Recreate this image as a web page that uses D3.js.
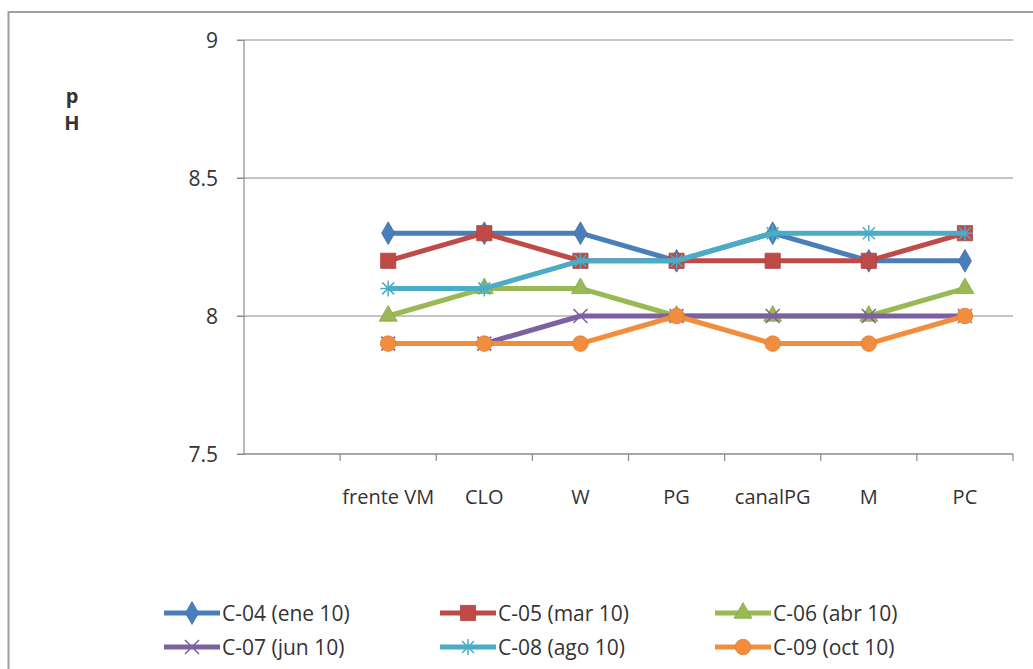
<!DOCTYPE html>
<html>
<head>
<meta charset="utf-8">
<script src="https://cdn.jsdelivr.net/npm/d3@7"></script>
<style>
  body { margin: 0; background: #fff; }
  svg { display: block; }
  text { font-family: "Open Sans", "DejaVu Sans", sans-serif; fill: #333; }
</style>
</head>
<body>
<div id="chart"></div>
<script>
// sites along x axis (first band is left empty, as in the original)
var sites = ["", "frente VM", "CLO", "W", "PG", "canalPG", "M", "PC"];
var yTicks = [7.5, 8, 8.5, 9];

var c04 = [8.3, 8.3, 8.3, 8.2, 8.3, 8.2, 8.2];
var c05 = [8.2, 8.3, 8.2, 8.2, 8.2, 8.2, 8.3];
var c06 = [8.0, 8.1, 8.1, 8.0, 8.0, 8.0, 8.1];
var c07 = [7.9, 7.9, 8.0, 8.0, 8.0, 8.0, 8.0];
var c08 = [8.1, 8.1, 8.2, 8.2, 8.3, 8.3, 8.3];
var c09 = [7.9, 7.9, 7.9, 8.0, 7.9, 7.9, 8.0];

var seriesNames = ["C-04 (ene 10)", "C-05 (mar 10)", "C-06 (abr 10)",
                   "C-07 (jun 10)", "C-08 (ago 10)", "C-09 (oct 10)"];
var colors = ["#4A7EBB", "#BE4B48", "#98B954", "#7D60A0", "#4BACC6", "#F38D3E"];
var shapes = ["diamond", "square", "triangle", "x", "star", "circle"];

var series = [c04, c05, c06, c07, c08, c09].map(function(v, i) {
  return { name: seriesNames[i], color: colors[i], shape: shapes[i],
           values: v.map(function(d, j) { return { site: sites[j + 1], v: d }; }) };
});

var W = 1033, H = 669;
var margin = {top: 40, left: 244};
var width = 1013 - margin.left, height = 454 - margin.top;

var svg = d3.select("#chart").append("svg").attr("width", W).attr("height", H);

// outer chart border
svg.append("rect").attr("x", 8.5).attr("y", 12).attr("width", W).attr("height", H)
  .attr("fill", "none").attr("stroke", "#a0a0a0").attr("stroke-width", 2);

var g = svg.append("g").attr("transform", "translate(" + margin.left + "," + margin.top + ")");

var x = d3.scaleBand().domain(sites).range([0, width]);
var y = d3.scaleLinear().domain([7.5, 9]).range([height, 0]);

// grid lines
g.selectAll(".grid").data(yTicks).enter().append("line")
  .attr("x1", -7).attr("x2", width)
  .attr("y1", function(d) { return y(d); }).attr("y2", function(d) { return y(d); })
  .attr("stroke", "#8a8a8a").attr("stroke-width", 1.2);

// y axis
var ya = g.append("g").call(d3.axisLeft(y).tickValues(yTicks).tickSize(7).tickFormat(d3.format("")));
ya.select(".domain").remove();
ya.selectAll(".tick line").attr("stroke", "#8a8a8a");
ya.selectAll("text").attr("x", -26).style("font-size", "21px").style("fill", "#333").attr("dy", "0.35em");
g.append("line").attr("x1", 0).attr("x2", 0).attr("y1", 0).attr("y2", height)
  .attr("stroke", "#8a8a8a").attr("stroke-width", 1.2);

// x axis: ticks at band edges
var xa = g.append("g").attr("transform", "translate(0," + height + ")");
xa.append("line").attr("x1", 0).attr("x2", width).attr("stroke", "#8a8a8a").attr("stroke-width", 1.2);
xa.selectAll(".xt").data(sites).enter().append("line")
  .attr("x1", function(d, i) { return x.step() * (i + 1); })
  .attr("x2", function(d, i) { return x.step() * (i + 1); })
  .attr("y1", 0).attr("y2", 7).attr("stroke", "#8a8a8a").attr("stroke-width", 1.2);
xa.selectAll(".xl").data(sites.slice(1)).enter().append("text")
  .attr("x", function(d) { return x(d) + x.bandwidth() / 2; })
  .attr("y", 50).attr("text-anchor", "middle").style("font-size", "20px")
  .text(function(d) { return d; });

// y title, stacked letters
svg.append("text").attr("x", 72).attr("y", 103).attr("text-anchor", "middle")
  .style("font-size", "20px").style("font-weight", "bold").text("p");
svg.append("text").attr("x", 72).attr("y", 130).attr("text-anchor", "middle")
  .style("font-size", "20px").style("font-weight", "bold").text("H");

function markerPath(shape) {
  if (shape === "star") return "M-8,0L8,0M0,-8L0,8M-6,-6L6,6M-6,6L6,-6";
  if (shape === "x") return "M-7,-7L7,7M-7,7L7,-7";
  var s = {diamond: d3.symbolDiamond, square: d3.symbolSquare,
           triangle: d3.symbolTriangle, circle: d3.symbolCircle}[shape];
  var size = {diamond: 150, square: 230, triangle: 140, circle: 190}[shape];
  return d3.symbol().type(s).size(size)();
}

function drawMarker(sel, d) {
  var p = sel.append("path").attr("d", markerPath(d.shape));
  if (d.shape === "x" || d.shape === "star") {
    p.attr("fill", "none").attr("stroke", d.color).attr("stroke-width", 1.5);
  } else {
    p.attr("fill", d.color).attr("stroke", d3.color(d.color).darker(0.3)).attr("stroke-width", 0.8);
  }
}

var line = d3.line()
  .x(function(d) { return x(d.site) + x.bandwidth() / 2; })
  .y(function(d) { return y(d.v); });

var sg = g.selectAll(".series").data(series).enter().append("g");
sg.append("path").attr("d", function(d) { return line(d.values); })
  .attr("fill", "none").attr("stroke", function(d) { return d.color; })
  .attr("stroke-width", 5).attr("stroke-linejoin", "round");
sg.each(function(d) {
  var s = d3.select(this);
  d.values.forEach(function(p) {
    var m = s.append("g").attr("transform", "translate(" + (x(p.site) + x.bandwidth() / 2) + "," + y(p.v) + ")");
    drawMarker(m, d);
  });
});

// legend
var legX = [164, 440, 715], legY = [613, 647];
var leg = svg.selectAll(".leg").data(series).enter().append("g")
  .attr("transform", function(d, i) { return "translate(" + legX[i % 3] + "," + legY[Math.floor(i / 3)] + ")"; });
leg.append("line").attr("x1", 0).attr("x2", 56).attr("stroke", function(d) { return d.color; }).attr("stroke-width", 5);
leg.each(function(d) {
  var m = d3.select(this).append("g").attr("transform", "translate(28,0)");
  drawMarker(m, d);
});
leg.append("text").attr("x", 58).attr("y", 8).style("font-size", "21px").text(function(d) { return d.name; });
</script>
</body>
</html>
